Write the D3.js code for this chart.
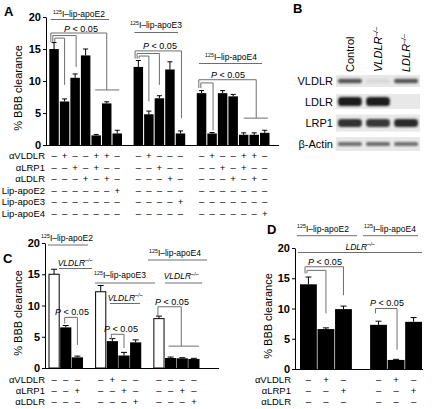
<!DOCTYPE html>
<html><head><meta charset="utf-8">
<script src="https://cdn.jsdelivr.net/npm/d3@7"></script>
<style>
body{margin:0;background:#fff}
svg{display:block}
text{font-family:"Liberation Sans",Arial,Helvetica,sans-serif;fill:#000}
</style>
</head><body>
<svg id="c" width="438" height="409"></svg>
<script>
// ---------------- DATA ----------------
const yTicks = [0, 5, 10, 15, 20];

// Panel A
const aGroupLabels = ["apoE2", "apoE3", "apoE4"];
const aValues = [[15, 6.8, 10.5, 14, 1.5, 6.5, 1.8], [12.2, 4.8, 7.3, 11.8, 1.8], [8.1, 1.8, 8.1, 7.6, 1.6, 1.6, 1.9]];
const aErrors = [[1, 0.4, 0.6, 1, 0.15, 0.25, 0.5], [1, 0.5, 0.4, 1.2, 0.4], [0.4, 0.15, 0.4, 0.3, 0.3, 0.3, 0.4]];
const aRowLabels = ["αVLDLR", "αLRP1", "αLDLR", "Lip-apoE2", "Lip-apoE3", "Lip-apoE4"];
const aSigns = [
  ["-+--++-", "-+---", "-+--++-"],
  ["--+-+--", "--+--", "--+-+--"],
  ["---+-+-", "---+-", "---+-+-"],
  ["------+", "-----", "-------"],
  ["-------", "----+", "-------"],
  ["-------", "-----", "------+"]
];

// Panel B (western blot)
const bLanes = ["Control", "VLDLR", "LDLR"];
const bLaneKO = [false, true, true];
const bRows = ["VLDLR", "LDLR", "LRP1", "β-Actin"];
const bIntensity = [[0.68, 0.04, 0.68], [0.95, 0.95, 0], [0.85, 0.82, 0.88], [0.55, 0.57, 0.55]];

// Panel C
const cGroupLabels = ["apoE2", "apoE3", "apoE4"];
const cValues = [[15, 6.5, 1.7], [12.2, 4.3, 2.0, 4.1], [7.9, 1.6, 1.55, 1.45]];
const cErrors = [[0.8, 0.3, 0.2], [1, 0.4, 0.5, 0.4], [0.4, 0.15, 0.1, 0.1]];
const cWhite = [[true, false, false], [true, false, false, false], [true, false, false, false]];
const cRowLabels = ["αVLDLR", "αLRP1", "αLDLR"];
const cSigns = [
  ["---", "-+--", "----"],
  ["--+", "--+-", "--+-"],
  ["---", "---+", "---+"]
];

// Panel D
const dGroupLabels = ["apoE2", "apoE4"];
const dValues = [[14, 6.6, 9.9], [7.3, 1.5, 7.8]];
const dErrors = [[1.2, 0.2, 0.5], [0.6, 0.1, 0.7]];
const dRowLabels = ["αVLDLR", "αLRP1", "αLDLR"];
const dSigns = [
  ["-+-", "-+-"],
  ["--+", "--+"],
  ["---", "---"]
];

// ---------------- HELPERS ----------------
const svg = d3.select("#c");
const GREY = "#6e6e6e";

function layout(values) {
  const slots = []; let idx = 0;
  values.forEach(g => { slots.push(g.map((_, i) => idx + i)); idx += g.length + 1; });
  return { slots, n: idx - 1 };
}

function rich(x, y, parts, size, anchor) {
  const t = svg.append("text").attr("x", x).attr("y", y)
    .attr("text-anchor", anchor || "middle").attr("font-size", size);
  let raised = false;
  parts.forEach(p => {
    const ts = t.append("tspan").text(p.t);
    if (p.it) ts.attr("font-style", "italic");
    if (p.sup) { ts.attr("font-size", size * 0.62).attr("dy", raised ? 0 : -size * 0.38); raised = true; }
    else if (raised) { ts.attr("dy", size * 0.38); raised = false; }
  });
  return t;
}
const isoLabel = (g) => [{ t: "125", sup: true }, { t: "I–lip-" + g }];
const koLabel = (g) => [{ t: g, it: true }, { t: "–/–", sup: true, it: true }];
const pLabel = [{ t: "P", it: true }, { t: " < 0.05" }];

function hline(x1, x2, y, color) {
  svg.append("line").attr("x1", x1).attr("x2", x2).attr("y1", y).attr("y2", y)
    .attr("stroke", color || GREY).attr("stroke-width", 1);
}
function poly(pts, color) {
  svg.append("path").attr("d", d3.line()(pts)).attr("fill", "none")
    .attr("stroke", color || GREY).attr("stroke-width", 1);
}

function barPanel(cfg) {
  const L = layout(cfg.values);
  const x = d3.scaleBand().domain(d3.range(L.n)).range([cfg.x0, cfg.x1]).paddingInner(cfg.pad).paddingOuter(0);
  const y = d3.scaleLinear().domain([0, 20]).range([cfg.yb, cfg.yt]);
  const g = svg.append("g");
  cfg.values.forEach((grp, gi) => grp.forEach((v, i) => {
    const s = L.slots[gi][i];
    const white = cfg.white && cfg.white[gi][i];
    const bx = x(s), bw = x.bandwidth();
    const e = cfg.errors[gi][i];
    g.append("line").attr("x1", bx + bw / 2).attr("x2", bx + bw / 2)
      .attr("y1", y(v)).attr("y2", y(v + e)).attr("stroke", "#000").attr("stroke-width", 1);
    g.append("line").attr("x1", bx + bw / 2 - cfg.cap).attr("x2", bx + bw / 2 + cfg.cap)
      .attr("y1", y(v + e)).attr("y2", y(v + e)).attr("stroke", "#000").attr("stroke-width", 1);
    g.append("rect").attr("x", white ? bx + 0.5 : bx).attr("y", y(v))
      .attr("width", white ? bw - 1 : bw).attr("height", y(0) - y(v))
      .attr("fill", white ? "#fff" : "#000").attr("stroke", white ? "#000" : "none").attr("stroke-width", 1);
  }));
  const ax = d3.axisLeft(y).tickValues(yTicks).tickFormat(d3.format("d")).tickSize(3).tickSizeOuter(0).tickPadding(2);
  const ag = svg.append("g").attr("transform", `translate(${cfg.ax},0)`).call(ax);
  ag.selectAll("text").attr("font-size", 11).attr("font-weight", "bold")
    .attr("font-family", "'Liberation Sans',Arial,sans-serif");
  ag.select(".domain").attr("stroke", "#000");
  hline(cfg.ax, cfg.axEnd, y(0) + 0.5, "#000");
  svg.append("text").attr("transform", `translate(${cfg.titleX},${cfg.titleY}) rotate(-90)`)
    .attr("text-anchor", "middle").attr("font-size", 11).text("% BBB clearance");
  cfg.rowLabels.forEach((lab, r) => {
    const ry = cfg.rowY0 + r * cfg.rowStep;
    svg.append("text").attr("x", cfg.labelX).attr("y", ry).attr("text-anchor", "end")
      .attr("font-size", 9.5).text(lab);
    cfg.signs[r].forEach((str, gi) => str.split("").forEach((ch, i) => {
      const s = L.slots[gi][i];
      svg.append("text").attr("x", x(s) + x.bandwidth() / 2).attr("y", ry)
        .attr("text-anchor", "middle").attr("font-size", 9.5)
        .text(ch === "+" ? "+" : "–");
    }));
  });
  const cx = (gi, i) => x(L.slots[gi][i]) + x.bandwidth() / 2;
  const bl = (gi, i) => x(L.slots[gi][i]);
  return { x, y, cx, bl, bw: x.bandwidth() };
}

// ---------------- PANEL A ----------------
svg.append("text").attr("x", 4).attr("y", 16).attr("font-size", 13).attr("font-weight", "bold").text("A");
const A = barPanel({
  values: aValues, errors: aErrors, x0: 49.3, x1: 269.5, pad: 0.1, yb: 145, yt: 17,
  ax: 46, axEnd: 279, cap: 2.5, titleX: 22, titleY: 88,
  rowLabels: aRowLabels, signs: aSigns, rowY0: 159, rowStep: 11.6, labelX: 45
});
{
  const { y, cx, bl } = A;
  rich(79, 17.3, isoLabel(aGroupLabels[0]), 8.5); hline(50.5, 109, 19.5);
  rich(156, 28.3, isoLabel(aGroupLabels[1]), 8.5); hline(134.5, 178, 32.5);
  rich(231, 60, isoLabel(aGroupLabels[2]), 8.5); hline(199, 262, 63.5);
  rich(81, 31.5, pLabel, 9);
  poly([[bl(0, 0) + 1.5, y(16.1)], [bl(0, 0) + 1.5, y(17.5)], [cx(0, 5), y(17.5)], [cx(0, 5), y(8.6)]]);
  hline(cx(0, 4) - 1, cx(0, 6) + 2, y(8.6));
  poly([[bl(0, 0) + 3.5, y(16.1)], [bl(0, 0) + 3.5, y(17.1)], [cx(0, 2) + 1, y(17.1)], [cx(0, 2) + 1, y(12.2)]]);
  poly([[bl(0, 0) + 5.5, y(16.1)], [bl(0, 0) + 5.5, y(16.7)], [cx(0, 1), y(16.7)], [cx(0, 1), y(9.4)]]);
  rich(160, 49, pLabel, 9);
  poly([[bl(1, 0) + 1.5, y(13.5)], [bl(1, 0) + 1.5, y(14.7)], [cx(1, 4) + 1, y(14.7)], [cx(1, 4) + 1, y(4.2)]]);
  poly([[bl(1, 0) + 3.5, y(13.5)], [bl(1, 0) + 3.5, y(14.3)], [cx(1, 2), y(14.3)], [cx(1, 2), y(9.4)]]);
  poly([[bl(1, 0) + 5.5, y(13.5)], [bl(1, 0) + 5.5, y(13.9)], [cx(1, 1), y(13.9)], [cx(1, 1), y(6.8)]]);
  rich(228, 78.3, pLabel, 9);
  poly([[bl(2, 0) + 2, y(8.9)], [bl(2, 0) + 2, y(10.2)], [cx(2, 5) + 2, y(10.2)], [cx(2, 5) + 2, y(4.2)]]);
  hline(cx(2, 4), cx(2, 6) + 3, y(4.2));
  poly([[bl(2, 0) + 4, y(8.9)], [bl(2, 0) + 4, y(9.7)], [cx(2, 1) + 1, y(9.7)], [cx(2, 1) + 1, y(2.3)]]);
}

// ---------------- PANEL B ----------------
svg.append("text").attr("x", 293).attr("y", 13).attr("font-size", 13).attr("font-weight", "bold").text("B");
{
  const defs = svg.append("defs");
  defs.append("filter").attr("id", "blur").attr("x", "-20%").attr("y", "-60%").attr("width", "140%").attr("height", "220%")
    .append("feGaussianBlur").attr("stdDeviation", 1);
  const laneX = d3.scaleBand().domain(bLanes).range([337, 419]).paddingInner(0.08);
  const rowY = [81, 101.5, 123, 144];
  const rowH = [12, 15, 17, 14];
  const bandH = [4.5, 9, 8, 4];
  const segments = [[[0, 0], [1, 2]], [[0, 2]], [[0, 0], [1, 1], [2, 2]], [[0, 0], [1, 1], [2, 2]]];
  const shade = d3.interpolateRgb("#e0e0e0", "#141414");
  bLanes.forEach((ln, i) => {
    const cxp = laneX(ln) + laneX.bandwidth() / 2 + 4;
    const t = svg.append("text").attr("transform", `translate(${cxp},72) rotate(-90)`)
      .attr("font-size", 11).attr("text-anchor", "start");
    if (bLaneKO[i]) {
      t.append("tspan").attr("font-style", "italic").text(ln);
      t.append("tspan").attr("font-style", "italic").attr("font-size", 7).attr("dy", -4).text("–/–");
    } else t.text(ln);
  });
  bRows.forEach((rn, r) => {
    svg.append("text").attr("x", 333).attr("y", rowY[r] + 4).attr("text-anchor", "end")
      .attr("font-size", 11).text(rn);
    segments[r].forEach(([a, b]) => {
      const xa = laneX(bLanes[a]) - 1, xb = laneX(bLanes[b]) + laneX.bandwidth() + 1;
      svg.append("rect").attr("x", xa).attr("y", rowY[r] - rowH[r] / 2)
        .attr("width", xb - xa).attr("height", rowH[r]).attr("fill", "#e8e8e8");
    });
    bLanes.forEach((ln, i) => {
      const v = bIntensity[r][i];
      if (v <= 0) return;
      const bx = laneX(ln) + 1, bw = laneX.bandwidth() - 2;
      svg.append("rect").attr("x", bx).attr("y", rowY[r] - bandH[r] / 2)
        .attr("width", bw).attr("height", bandH[r]).attr("rx", bandH[r] / 2.5)
        .attr("fill", shade(v))
        .attr("filter", "url(#blur)");
    });
  });
}

// ---------------- PANEL C ----------------
svg.append("text").attr("x", 3).attr("y", 263).attr("font-size", 13).attr("font-weight", "bold").text("C");
const C = barPanel({
  values: cValues, errors: cErrors, white: cWhite, x0: 48.5, x1: 199.5, pad: 0.04, yb: 368, yt: 243,
  ax: 45, axEnd: 219, cap: 3, titleX: 22, titleY: 313,
  rowLabels: cRowLabels, signs: cSigns, rowY0: 382.5, rowStep: 11.4, labelX: 45
});
{
  const { y, cx } = C;
  rich(67, 241, isoLabel(cGroupLabels[0]), 8.5); hline(48, 88, 245);
  rich(75, 265.5, koLabel("VLDLR"), 8.5); hline(59, 92, 268.5);
  rich(120, 278, isoLabel(cGroupLabels[1]), 8.5); hline(95, 155, 283);
  rich(125, 300.5, koLabel("VLDLR"), 8.5); hline(110, 140, 303.5);
  rich(175, 256, isoLabel(cGroupLabels[2]), 8.5); hline(148, 207, 260);
  rich(181, 279, koLabel("VLDLR"), 8.5); hline(165, 202, 283);
  rich(72, 315, pLabel, 9);
  poly([[cx(0, 1) - 1, y(7.1)], [cx(0, 1) - 1, y(8.1)], [cx(0, 2), y(8.1)], [cx(0, 2), y(3.7)]]);
  rich(121, 332, pLabel, 9);
  poly([[cx(1, 1) - 1, y(4.6)], [cx(1, 1) - 1, y(5.4)], [cx(1, 2), y(5.4)], [cx(1, 2), y(3.2)]]);
  rich(172, 305, pLabel, 9);
  poly([[cx(2, 0) - 1, y(8.2)], [cx(2, 0) - 1, y(9.8)], [cx(2, 2) - 1, y(9.8)], [cx(2, 2) - 1, y(3.5)]]);
  hline(cx(2, 1) - 2, cx(2, 3) + 5, y(3.5));
}

// ---------------- PANEL D ----------------
svg.append("text").attr("x", 267).attr("y", 234).attr("font-size", 13).attr("font-weight", "bold").text("D");
const D = barPanel({
  values: dValues, errors: dErrors, x0: 300, x1: 422, pad: 0.04, yb: 369, yt: 248,
  ax: 295, axEnd: 423, cap: 3, titleX: 272, titleY: 316,
  rowLabels: dRowLabels, signs: dSigns, rowY0: 383, rowStep: 11.2, labelX: 291
});
{
  const { y, cx, bl } = D;
  rich(323, 231.5, isoLabel(dGroupLabels[0]), 8.5); hline(297, 357, 235.7);
  rich(390, 231.5, isoLabel(dGroupLabels[1]), 8.5); hline(363, 418, 235.7);
  rich(360, 249.5, koLabel("LDLR"), 8.5); hline(298, 422, 252.5);
  rich(325, 265, pLabel, 9);
  poly([[bl(0, 0) + 5, y(15.8)], [bl(0, 0) + 5, y(16.9)], [cx(0, 2), y(16.9)], [cx(0, 2), y(12.2)]]);
  poly([[bl(0, 0) + 7, y(15.8)], [bl(0, 0) + 7, y(16.3)], [cx(0, 1), y(16.3)], [cx(0, 1), y(9.2)]]);
  rich(387, 306, pLabel, 9);
  poly([[cx(1, 0) - 3, y(9.2)], [cx(1, 0) - 3, y(10)], [cx(1, 1) + 1, y(10)], [cx(1, 1) + 1, y(3.2)]]);
}
</script>
</body></html>
